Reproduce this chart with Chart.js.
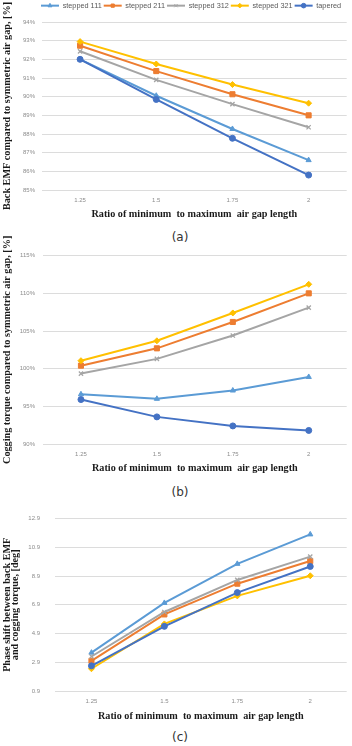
<!DOCTYPE html>
<html lang="en">
<head>
<meta charset="UTF-8">
<title>Air gap ratio comparison</title>
<script src="https://cdn.jsdelivr.net/npm/chart.js"></script>
<style>
  body { margin: 0; background: #fff; width: 352px; height: 746px; position: relative; overflow: hidden; }
  .box { position: absolute; left: 0; width: 352px; }
  .cap { position: absolute; left: 0; width: 360px; text-align: center; font-family: "DejaVu Sans", sans-serif; font-size: 12px; color: #333; line-height: 14px; }
</style>
</head>
<body>
<div class="box" style="top:0;height:220px"><canvas id="chartA"></canvas></div>
<div class="cap" style="top:230px">(a)</div>
<div class="box" style="top:225px;height:249px"><canvas id="chartB"></canvas></div>
<div class="cap" style="top:485px">(b)</div>
<div class="box" style="top:500px;height:222px"><canvas id="chartC"></canvas></div>
<div class="cap" style="top:730px">(c)</div>

<script>
// categories and series
const ratios = ['1.25', '1.5', '1.75', '2'];
const seriesNames = ['stepped 111', 'stepped 211', 'stepped 312', 'stepped 321', 'tapered'];
const colors = ['#5B9BD5', '#ED7D31', '#A5A5A5', '#FFC000', '#4472C4'];
const markers = ['triangle', 'rect', 'crossRot', 'rectRot', 'circle'];

// (a) back EMF compared to symmetric air gap [%]
const emf111 = [92.0, 90.05, 88.27, 86.6];
const emf211 = [92.73, 91.37, 90.13, 89.0];
const emf312 = [92.43, 90.9, 89.6, 88.36];
const emf321 = [92.95, 91.75, 90.65, 89.65];
const emfTapered = [92.0, 89.85, 87.77, 85.8];
const emfTicks = [85, 86, 87, 88, 89, 90, 91, 92, 93, 94];

// (b) cogging torque compared to symmetric air gap [%]
const cog111 = [96.6, 96.0, 97.1, 98.9];
const cog211 = [100.4, 102.7, 106.2, 110.0];
const cog312 = [99.35, 101.3, 104.4, 108.1];
const cog321 = [101.06, 103.7, 107.4, 111.2];
const cogTapered = [95.9, 93.6, 92.4, 91.8];
const cogTicks = [90, 95, 100, 105, 110, 115];

// (c) phase shift between back EMF and cogging torque [deg]
const ph111 = [3.57, 7.03, 9.75, 11.8];
const ph211 = [3.0, 6.23, 8.37, 9.95];
const ph312 = [3.3, 6.4, 8.63, 10.25];
const ph321 = [2.45, 5.57, 7.52, 8.92];
const phTapered = [2.65, 5.4, 7.75, 9.57];
const phTicks = [0.9, 2.9, 4.9, 6.9, 8.9, 10.9, 12.9];

const xTitle = 'Ratio of minimum  to maximum  air gap length';
const tickFont = { family: 'Liberation Sans', size: 6 };
const legendShift = 15;   // legend sits a bit right of centre in the original
const legendExtra = 2.7;  // extra gap between legend and plot

// Excel-like legend: shift it, add space under it, and put a marker on each line
const legendTweaks = {
  id: 'legendTweaks',
  afterInit(chart) {
    const lg = chart.legend;
    if (!lg || !chart.options.plugins.legend.display) return;
    const fit = lg.fit.bind(lg);
    lg.fit = function () { fit(); this.height += legendExtra; };
    const draw = lg.draw.bind(lg);
    lg.draw = function () {
      const ctx = chart.ctx;
      ctx.save();
      ctx.translate(legendShift, 0);
      draw();
      ctx.restore();
    };
  },
  afterDraw(chart) {
    const lg = chart.legend;
    if (!lg || !chart.options.plugins.legend.display) return;
    const ctx = chart.ctx;
    lg.legendHitBoxes.forEach((hb, i) => {
      const ds = chart.data.datasets[lg.legendItems[i].datasetIndex];
      ctx.save();
      ctx.fillStyle = ds.borderColor;
      ctx.strokeStyle = ds.borderColor;
      ctx.lineWidth = 1;
      Chart.helpers.drawPoint(ctx, { pointStyle: ds.pointStyle, radius: 2.3, rotation: 0, borderWidth: 1 },
        hb.left + legendShift + 9, hb.top + hb.height / 2);
      ctx.restore();
    });
  }
};

function makeChart(id, series, ticks, fmt, o) {
  const datasets = series.map((vals, i) => ({
    label: seriesNames[i],
    data: vals,
    borderColor: colors[i],
    backgroundColor: colors[i],
    borderWidth: 2,
    pointStyle: markers[i],
    pointRadius: markers[i] === 'rect' ? 3.6 : 3,
    pointBorderWidth: markers[i] === 'crossRot' ? 1.3 : 1,
    pointBackgroundColor: colors[i],
    tension: 0,
    order: series.length - i
  }));
  return new Chart(document.getElementById(id), {
    type: 'line',
    data: { labels: ratios, datasets: datasets },
    plugins: [legendTweaks],
    options: {
      responsive: true,
      maintainAspectRatio: false,
      animation: false,
      layout: { padding: { top: o.padTop, left: 0, right: 0, bottom: 0 } },
      plugins: {
        tooltip: { enabled: false },
        legend: {
          display: o.legend,
          position: 'top',
          labels: {
            boxWidth: 18,
            boxHeight: 2,
            padding: 2,
            color: '#595959',
            font: { family: 'Liberation Sans', size: 7.3 },
            sort: (a, b) => a.datasetIndex - b.datasetIndex,
            generateLabels: (chart) => Chart.defaults.plugins.legend.labels.generateLabels(chart)
              .map(it => Object.assign(it, { lineWidth: 0 }))
          }
        }
      },
      scales: {
        x: {
          type: 'category',
          offset: true,
          grid: { display: false, drawTicks: false },
          border: { display: false },
          ticks: { font: tickFont, color: '#8c8c8c', padding: 7, maxRotation: 0 },
          title: { display: true, text: xTitle, color: '#1a1a1a', padding: { top: 0, bottom: 0 },
            font: { family: 'Liberation Serif', size: 10.2, weight: 'bold' } },
          afterFit: s => { s.height = o.xHeight; }
        },
        y: {
          type: 'linear',
          min: ticks[0],
          max: ticks[ticks.length - 1],
          afterBuildTicks: s => { s.ticks = ticks.map(v => ({ value: v })); },
          grid: { color: '#dcdcdc', lineWidth: 1, drawTicks: false },
          border: { display: false },
          ticks: { font: tickFont, color: '#8c8c8c', padding: o.yPad, callback: fmt },
          title: { display: true, text: o.yTitle, color: '#1a1a1a', padding: { top: o.yTitlePad || 0, bottom: 0 },
            font: { family: 'Liberation Serif', size: 10.2, weight: 'bold', lineHeight: o.yLine || 1.2 } },
          afterFit: s => { s.width = o.yWidth; }
        }
      }
    }
  });
}

const pct = v => v + '%';
const deg = v => v.toFixed(1);

makeChart('chartA', [emf111, emf211, emf312, emf321, emfTapered], emfTicks, pct, {
  legend: true, padTop: 0, xHeight: 30, yWidth: 42, yPad: 7, yTitlePad: 0.8,
  yTitle: 'Back EMF compared to symmetric air gap, [%]'
});
makeChart('chartB', [cog111, cog211, cog312, cog321, cogTapered], cogTicks, pct, {
  legend: false, padTop: 30.7, xHeight: 30, yWidth: 43, yPad: 8, yTitlePad: 0.8,
  yTitle: 'Cogging torque compared to symmetric air gap, [%]'
});
makeChart('chartC', [ph111, ph211, ph312, ph321, phTapered], phTicks, deg, {
  legend: false, padTop: 11, xHeight: 31, yWidth: 55, yPad: 15,
  yTitle: ['Phase shift between back EMF', 'and cogging torque, [deg]'], yLine: 0.85, yTitlePad: 2.6
});
</script>
</body>
</html>
